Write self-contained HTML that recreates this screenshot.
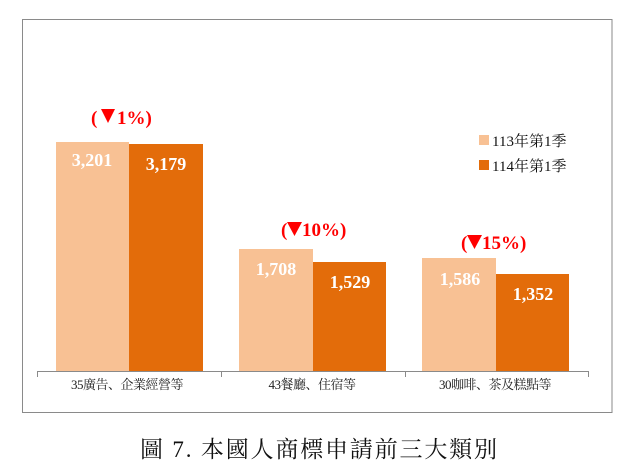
<!DOCTYPE html>
<html><head><meta charset="utf-8"><style>
body{margin:0;background:#fff;}
svg{display:block;}
</style></head><body>
<svg width="630" height="476" viewBox="0 0 630 476" xmlns="http://www.w3.org/2000/svg">
<rect x="0" y="0" width="630" height="476" fill="#fff"/>
<rect x="22.5" y="19.5" width="589.5" height="393" fill="none" stroke="#8a8a8a" stroke-width="1"/>
<rect x="56" y="142" width="73" height="230" fill="#F8C194"/>
<rect x="129" y="144" width="74" height="228" fill="#E36C0A"/>
<rect x="239" y="249" width="74" height="123" fill="#F8C194"/>
<rect x="313" y="262" width="73" height="110" fill="#E36C0A"/>
<rect x="422" y="258" width="74" height="114" fill="#F8C194"/>
<rect x="496" y="274" width="73" height="98" fill="#E36C0A"/>
<g stroke="#8a8a8a" stroke-width="1">
<line x1="37" y1="371.5" x2="589" y2="371.5"/>
<line x1="37.5" y1="371" x2="37.5" y2="377"/>
<line x1="221.5" y1="371" x2="221.5" y2="377"/>
<line x1="405.5" y1="371" x2="405.5" y2="377"/>
<line x1="588.5" y1="371" x2="588.5" y2="377"/>
</g>
<g font-family="'Liberation Serif','Noto Serif CJK SC',serif" font-size="13" fill="#222" text-anchor="middle" letter-spacing="-0.5">
<text x="127" y="389">35廣告、企業經營等</text>
<text x="312" y="389">43餐廳、住宿等</text>
<text x="495" y="389">30咖啡、茶及糕點等</text>
</g>
<g font-family="'Liberation Serif',serif" font-size="18" font-weight="bold" fill="#fff" text-anchor="middle">
<text x="92" y="166">3,201</text>
<text x="166" y="170">3,179</text>
<text x="276" y="275">1,708</text>
<text x="350" y="288">1,529</text>
<text x="460" y="285">1,586</text>
<text x="533" y="300">1,352</text>
</g>
<g fill="#FF0000">
<polygon points="101,109 115,109 108,123"/>
<polygon points="287,222 302,222 294.5,236"/>
<polygon points="467,235 482,235 474.5,249"/>
</g>
<g font-family="'Liberation Serif',serif" font-size="19" font-weight="bold" fill="#FF0000">
<text x="91" y="124">(</text>
<text x="117" y="124">1%)</text>
<text x="281" y="236">(</text>
<text x="302" y="236">10%)</text>
<text x="461" y="249">(</text>
<text x="482" y="249">15%)</text>
</g>
<rect x="479" y="135" width="10" height="10" fill="#F8C194"/>
<rect x="479" y="160" width="10" height="10" fill="#E36C0A"/>
<g font-family="'Liberation Serif','Noto Serif CJK SC',serif" font-size="15" fill="#111">
<text x="492" y="146">113年第1季</text>
<text x="492" y="171">114年第1季</text>
</g>
<text x="140" y="457" font-family="'Liberation Serif','Noto Serif CJK TC','Noto Serif CJK SC',serif" font-size="23" fill="#111" textLength="357" lengthAdjust="spacing">圖 7.  本國人商標申請前三大類別</text>
</svg>
</body></html>
